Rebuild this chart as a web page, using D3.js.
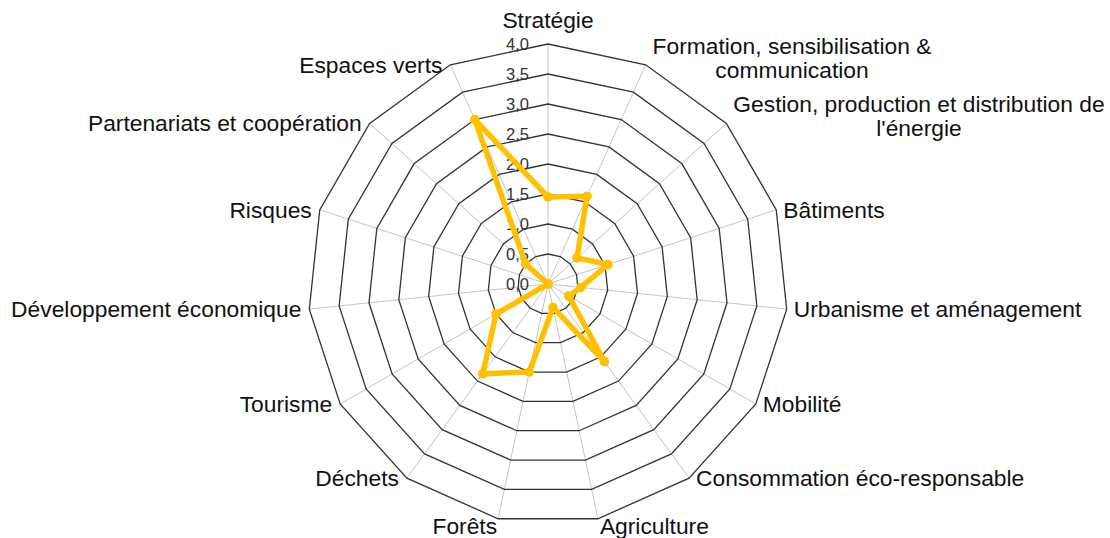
<!DOCTYPE html>
<html lang="fr">
<head>
<meta charset="utf-8">
<title>Radar</title>
<script src="https://d3js.org/d3.v7.min.js"></script>
<style>
  body { margin: 0; background: #fff; }
  svg { display: block; }
</style>
</head>
<body>
<script>
// categories, clockwise from the top
var categories = [
  "Stratégie",
  "Formation, sensibilisation &\ncommunication",
  "Gestion, production et distribution de\nl'énergie",
  "Bâtiments",
  "Urbanisme et aménagement",
  "Mobilité",
  "Consommation éco-responsable",
  "Agriculture",
  "Forêts",
  "Déchets",
  "Tourisme",
  "Développement économique",
  "Risques",
  "Partenariats et coopération",
  "Espaces verts"
];
var values = [1.45, 1.6, 0.65, 1.05, 0.55, 0.4, 1.6, 0.4, 1.5, 1.85, 1.0, 0.0, 0.0, 0.5, 3.0];
var ticks = [0, 0.5, 1, 1.5, 2, 2.5, 3, 3.5, 4];
var tickLabels = ["0,0", "0,5", "1,0", "1,5", "2,0", "2,5", "3,0", "3,5", "4,0"];

var w = 1110, h = 538;
var cx = 548, cy = 284, R = 240;
var n = categories.length;
var font = "'Liberation Sans', Arial, sans-serif";

var svg = d3.select("body").append("svg")
  .attr("width", w)
  .attr("height", h);

var r = d3.scaleLinear().domain([0, 4]).range([0, R]);
var angle = d3.scaleLinear().domain([0, n]).range([0, 2 * Math.PI]);

var g = svg.append("g").attr("transform", "translate(" + cx + "," + cy + ")");

// spokes
g.selectAll("line.spoke")
  .data(categories)
  .enter().append("line")
  .attr("class", "spoke")
  .attr("x1", 0).attr("y1", 0)
  .attr("x2", function(d, i) { return r(4) * Math.sin(angle(i)); })
  .attr("y2", function(d, i) { return -r(4) * Math.cos(angle(i)); })
  .attr("stroke", "#c4c4c4")
  .attr("stroke-width", 1);

// rings (polygon grid)
var ringLine = d3.lineRadial()
  .angle(function(d, i) { return angle(i); })
  .radius(function(d) { return r(d); })
  .curve(d3.curveLinearClosed);

g.selectAll("path.ring")
  .data(ticks.slice(1))
  .enter().append("path")
  .attr("class", "ring")
  .attr("d", function(t) { return ringLine(categories.map(function() { return t; })); })
  .attr("fill", "none")
  .attr("stroke", "#333")
  .attr("stroke-width", 1.3);

// tick labels
g.selectAll("text.tick")
  .data(ticks)
  .enter().append("text")
  .attr("class", "tick")
  .attr("x", -19)
  .attr("y", function(d) { return -r(d); })
  .attr("dy", "0.35em")
  .attr("text-anchor", "end")
  .attr("font-family", font)
  .attr("font-size", 16.5)
  .attr("fill", "#333")
  .text(function(d, i) { return tickLabels[i]; });

// series
var seriesLine = d3.lineRadial()
  .angle(function(d, i) { return angle(i); })
  .radius(function(d) { return r(d); })
  .curve(d3.curveLinearClosed);

g.append("path")
  .datum(values)
  .attr("d", seriesLine)
  .attr("fill", "none")
  .attr("stroke", "#FFC000")
  .attr("stroke-width", 5.5)
  .attr("stroke-linejoin", "round");

g.selectAll("circle.pt")
  .data(values)
  .enter().append("circle")
  .attr("class", "pt")
  .attr("cx", function(d, i) { return r(d) * Math.sin(angle(i)); })
  .attr("cy", function(d, i) { return -r(d) * Math.cos(angle(i)); })
  .attr("r", 4.8)
  .attr("fill", "#FFC000");

// category labels
categories.forEach(function(name, i) {
  var a = angle(i);
  var s = Math.sin(a), c = Math.cos(a);
  var px = R * s, py = -R * c;
  var lines = name.split("\n");
  var t = g.append("text")
    .attr("font-family", font)
    .attr("font-size", 22.8)
    .attr("fill", "#111");
  var x, y0, anchor, lh = 24;
  if (Math.abs(s) < 0.05) {
    anchor = "middle"; x = px; y0 = py - 16;
  } else if (c < -0.9) {
    anchor = s > 0 ? "start" : "end";
    x = s > 0 ? px + 2 : px - 1;
    y0 = py + 15;
  } else if (s > 0) {
    anchor = "start"; x = px + 7;
    y0 = lines.length > 1 ? py - 11 : py + 8;
  } else {
    anchor = "end"; x = px - 8; y0 = py + 8;
  }
  lines.forEach(function(l, k) {
    t.append("tspan").attr("y", y0 + k * lh).text(l);
  });
  if (lines.length > 1) {
    // center lines within the block that starts at x
    var bw = d3.max(t.selectAll("tspan").nodes(), function(nd) { return nd.getComputedTextLength(); });
    t.attr("text-anchor", "middle");
    t.selectAll("tspan").attr("x", x + bw / 2);
  } else {
    t.attr("text-anchor", anchor);
    t.selectAll("tspan").attr("x", x);
  }
});
</script>
</body>
</html>
